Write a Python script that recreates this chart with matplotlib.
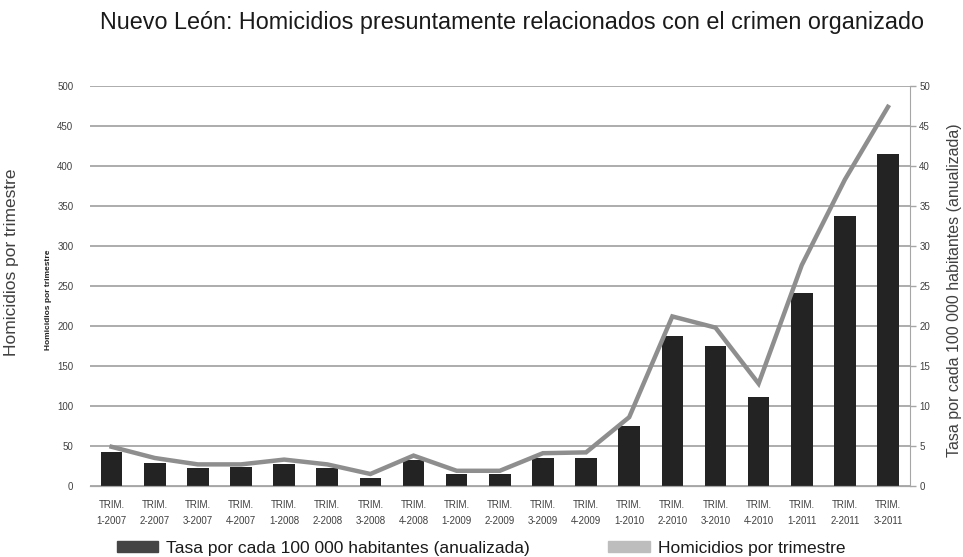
import matplotlib.pyplot as plt
from matplotlib.patches import Patch

plt.rcParams['font.family'] = ['Liberation Sans', 'DejaVu Sans']

# Data
quarters = ['1-2007', '2-2007', '3-2007', '4-2007', '1-2008', '2-2008', '3-2008',
            '4-2008', '1-2009', '2-2009', '3-2009', '4-2009', '1-2010', '2-2010',
            '3-2010', '4-2010', '1-2011', '2-2011', '3-2011']
tick_labels = ['TRIM.\n' + q for q in quarters]
# Tasa por cada 100 000 habitantes (anualizada) - right axis
tasa = [4.3, 2.9, 2.3, 2.4, 2.7, 2.3, 1.0, 3.3, 1.5, 1.5, 3.5, 3.5,
        7.5, 18.8, 17.5, 11.1, 24.1, 33.7, 41.5]
# Homicidios por trimestre - left axis
homicidios = [49, 35, 27, 27, 33, 27, 15, 38, 19, 19, 41, 42,
              86, 212, 198, 128, 276, 383, 474]

bar_color = '#232323'
line_color = '#8e8e8e'
grid_color = '#a6a6a6'
text_color = '#404040'

fig = plt.figure(figsize=(9.63, 5.57), dpi=100)
ax = fig.add_axes([0.0935, 0.1275, 0.851, 0.718])
ax2 = ax.twinx()
ax.set_zorder(2)
ax2.set_zorder(1)
ax.patch.set_visible(False)

x = list(range(len(quarters)))

# bars on right axis
ax2.bar(x, tasa, width=0.5, color=bar_color, zorder=2)
ax2.set_ylim(0, 50)
ax2.set_yticks(range(0, 51, 5))
ax2.grid(axis='y', color=grid_color, linewidth=1.3)
ax2.set_axisbelow(True)
ax2.tick_params(axis='y', labelsize=7, labelcolor=text_color, color=grid_color,
                length=4, width=1, pad=3)
ax2.set_ylabel('Tasa por cada 100 000 habitantes (anualizada)', fontsize=11.5,
               color=text_color)
ax2.yaxis.set_label_coords(1.046, 0.49)

# line on left axis
ax.plot(x, homicidios, color=line_color, linewidth=3.2, solid_joinstyle='miter')
ax.set_ylim(0, 500)
ax.set_yticks(range(0, 501, 50))
ax.set_xlim(-0.5, len(quarters) - 0.5)
ax.set_xticks(x)
ax.set_xticklabels(tick_labels, fontsize=7, color=text_color, linespacing=1.75)
ax.tick_params(axis='x', length=0, pad=10)
ax.tick_params(axis='y', labelsize=7, labelcolor=text_color, length=0, pad=12)
ax.set_ylabel('Homicidios por trimestre', fontsize=12.5, color=text_color)
ax.yaxis.set_label_coords(-0.0866, 0.56)

for a in (ax, ax2):
    a.spines['top'].set_visible(False)
    a.spines['left'].set_visible(False)
    a.spines['bottom'].set_color(grid_color)
    a.spines['right'].set_visible(False)
ax2.spines['right'].set_visible(True)
ax2.spines['right'].set_color(grid_color)

# small duplicated label next to the left ticks
fig.text(48 / 963, 1 - 300 / 557, 'Homicidios por trimestre', rotation=90, fontsize=6,
         fontweight='bold', color='#202020', ha='center', va='center')

fig.suptitle('Nuevo León: Homicidios presuntamente relacionados con el crimen organizado',
             x=512 / 963, y=1 - 23 / 557, va='center', fontsize=16.8, color='#1a1a1a')

handles = [Patch(color='#454545'), Patch(color='#bdbdbd')]
labels = ['Tasa por cada 100 000 habitantes (anualizada)', 'Homicidios por trimestre']
fig.legend(handles, labels, loc='center left', bbox_to_anchor=(0.105, 9 / 557), ncol=2,
           frameon=False, fontsize=12.5, handlelength=2.4, handleheight=0.6,
           columnspacing=4.5, handletextpad=0.46, labelcolor='#1a1a1a')

fig.savefig('out.png', dpi=100)
